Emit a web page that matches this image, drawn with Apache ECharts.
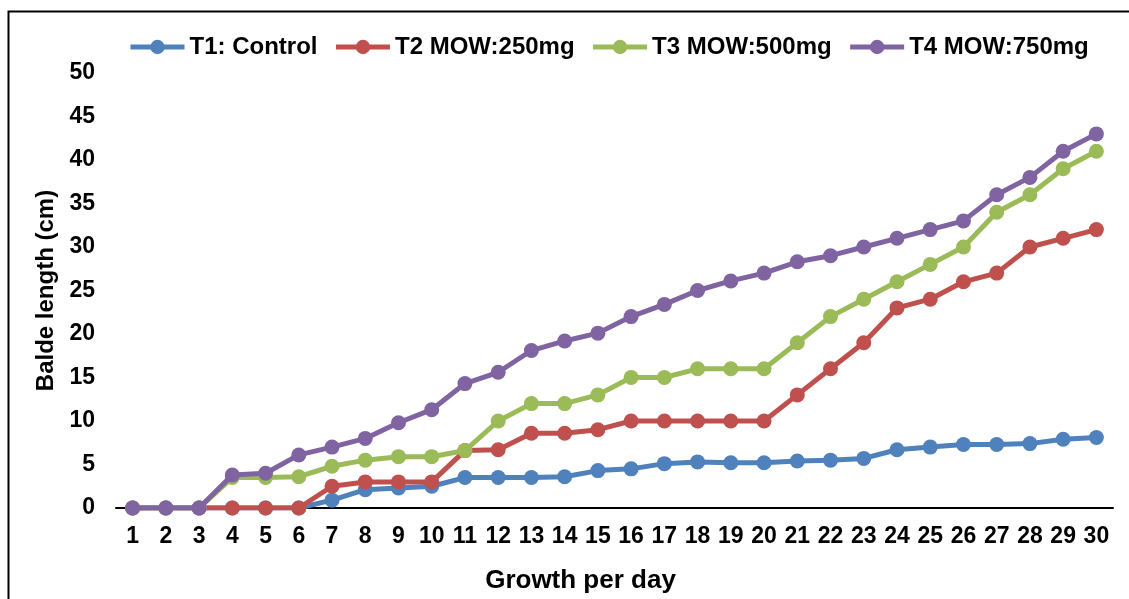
<!DOCTYPE html>
<html>
<head>
<meta charset="utf-8">
<title>Balde length growth</title>
<script src="https://cdn.jsdelivr.net/npm/echarts@6/dist/echarts.min.js"></script>
<style>
  html, body { margin: 0; padding: 0; background: #fff; }
  #chart { width: 1129px; height: 599px; }
</style>
</head>
<body>
<div id="chart"></div>
<script>
// Days of observation
const days = ['1','2','3','4','5','6','7','8','9','10','11','12','13','14','15','16','17','18','19','20','21','22','23','24','25','26','27','28','29','30'];

// Balde length (cm) per treatment
const t1Control = [0, 0, 0, 0, 0, 0, 0.9, 2.1, 2.3, 2.5, 3.5, 3.5, 3.5, 3.6, 4.3, 4.5, 5.1, 5.3, 5.2, 5.2, 5.4, 5.5, 5.7, 6.7, 7.0, 7.3, 7.3, 7.4, 7.9, 8.1];
const t2Mow250 = [0, 0, 0, 0, 0, 0, 2.5, 3.0, 3.0, 3.0, 6.6, 6.7, 8.6, 8.6, 9.0, 10, 10, 10, 10, 10, 13, 16, 19, 23, 24, 26, 27, 30, 31, 32];
const t3Mow500 = [0, 0, 0, 3.5, 3.5, 3.6, 4.8, 5.5, 5.9, 5.9, 6.6, 10, 12, 12, 13, 15, 15, 16, 16, 16, 19, 22, 24, 26, 28, 30, 34, 36, 39, 41];
const t4Mow750 = [0, 0, 0, 3.8, 4.0, 6.1, 7.0, 8.0, 9.8, 11.3, 14.3, 15.6, 18.1, 19.2, 20.1, 22, 23.4, 25, 26.1, 27, 28.3, 29, 30, 31, 32, 33, 36, 38, 41, 43];

const seriesNames = ['T1: Control', 'T2 MOW:250mg', 'T3 MOW:500mg', 'T4 MOW:750mg'];
const seriesColors = ['#4F81BD', '#C0504D', '#9BBB59', '#8064A2'];
const seriesData = [t1Control, t2Mow250, t3Mow500, t4Mow750];

const FONT = '"Liberation Sans", Arial, sans-serif';

const chart = echarts.init(document.getElementById('chart'), null, { renderer: 'canvas' });

chart.setOption({
  backgroundColor: '#ffffff',
  animation: false,
  graphic: [{
    type: 'rect',
    left: 6,
    top: 9,
    shape: { width: 1200, height: 700 },
    style: { fill: 'none', stroke: '#000', lineWidth: 2 },
    silent: true,
    z: -1
  }],
  legend: {
    data: seriesNames,
    left: 123,
    top: 30,
    itemWidth: 54,
    itemHeight: 18,
    itemGap: 16,
    lineStyle: { width: 5 },
    textStyle: { fontFamily: FONT, fontSize: 24, fontWeight: 'bold', color: '#000' }
  },
  grid: { left: 116, right: 16, top: 73, bottom: 91, containLabel: false, outerBoundsMode: 'none' },
  xAxis: {
    type: 'category',
    data: days,
    boundaryGap: true,
    name: 'Growth per day',
    nameLocation: 'middle',
    nameGap: 60,
    nameTextStyle: { fontFamily: FONT, fontSize: 26, fontWeight: 'bold', color: '#000', padding: [0, 68, 0, 0] },
    axisLine: { show: true, lineStyle: { color: '#000', width: 2 } },
    axisTick: { show: false },
    axisLabel: { fontFamily: FONT, fontSize: 23, fontWeight: 'bold', color: '#000', margin: 17, interval: 0 },
    splitLine: { show: false }
  },
  yAxis: {
    type: 'value',
    min: 0,
    max: 50,
    interval: 5,
    name: 'Balde length (cm)',
    nameLocation: 'middle',
    nameGap: 58,
    nameRotate: 90,
    nameTextStyle: { fontFamily: FONT, fontSize: 24, fontWeight: 'bold', color: '#000' },
    axisLine: { show: false },
    axisTick: { show: false },
    splitLine: { show: false },
    axisLabel: { fontFamily: FONT, fontSize: 23, fontWeight: 'bold', color: '#000', margin: 21 }
  },
  series: seriesData.map((d, i) => ({
    name: seriesNames[i],
    type: 'line',
    data: d,
    symbol: 'circle',
    symbolSize: 15,
    showSymbol: true,
    color: seriesColors[i],
    lineStyle: { width: 5, color: seriesColors[i] },
    itemStyle: { color: seriesColors[i] },
    z: 2 + i
  }))
});
</script>
</body>
</html>
